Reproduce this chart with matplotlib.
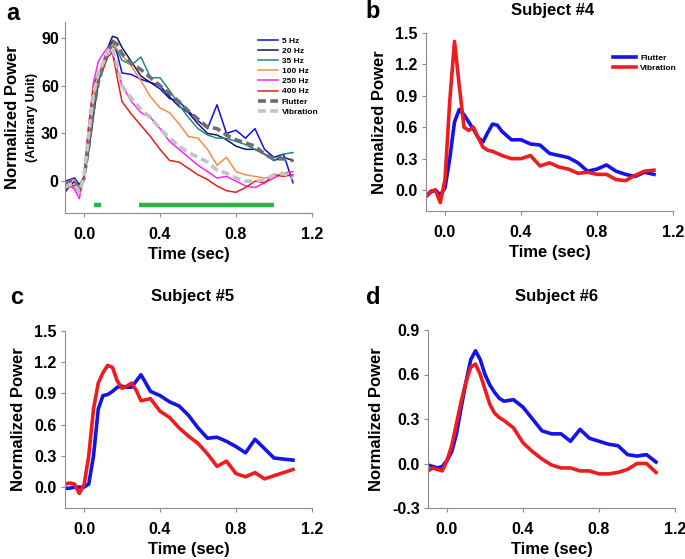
import matplotlib
matplotlib.use('Agg')
import matplotlib.pyplot as plt

plt.rcParams['font.family'] = ['Liberation Sans', 'DejaVu Sans']
plt.rcParams['font.weight'] = 'bold'

W, H = 685, 559

# ---- panel a : group average per frequency ----
time_a = [-0.1, -0.075, -0.05, -0.025, 0.0, 0.025, 0.05, 0.075, 0.1, 0.125, 0.15, 0.175, 0.2,
          0.25, 0.3, 0.35, 0.4, 0.45, 0.5, 0.55, 0.6, 0.65, 0.7, 0.75, 0.8, 0.85, 0.9, 0.95,
          1.0, 1.05, 1.1]
hz5 = [0, 1, 2, -2, 2, 20, 42, 62, 72, 82, 88, 80, 68,
       67, 64, 62, 58, 52, 50, 44, 38, 33, 48, 30, 32, 27, 33, 20, 15, 17, -1]
hz20 = [-7, -3, 0, -3, 2, 20, 42, 62, 74, 84, 91, 90, 84,
        75, 66, 62, 60, 53, 47, 43, 36, 30, 29, 26, 22, 20, 20, 17, 13, 15, 13]
hz35 = [-3, -2, -5, -7, 2, 22, 45, 63, 72, 80, 85, 82, 76,
        73, 78, 65, 65, 57, 48, 40, 33, 29, 27, 27, 25, 23, 20, 17, 13, 17, 18]
hz100 = [-2, 0, 1, -4, 2, 25, 50, 66, 75, 82, 86, 83, 79,
         72, 63, 53, 46, 43, 36, 28, 27, 20, 10, 15, 6, 4, 3, 2, 3, 5, 3]
hz250 = [-5, -3, -5, -11, 3, 35, 62, 75, 80, 84, 80, 70, 60,
         50, 43, 40, 33, 25, 20, 15, 10, 6, 2, 3, 0, -3, -4, -1, 2, 5, 6]
hz400 = [-4, -2, -3, -8, 3, 35, 60, 68, 70, 78, 81, 65, 50,
         42, 35, 28, 20, 13, 12, 8, 4, 1, -3, -6, -7, -4, 0, -1, 4, 3, 4]
flutter_a = [-2, 0, 0, -5, 2, 22, 45, 62, 72, 82, 88, 86, 80,
             74, 70, 65, 60, 55, 50, 44, 39, 34, 33, 29, 26, 24, 22, 17, 14, 14, 13]
vibration_a = [-4, -2, -2, -7, 3, 30, 55, 68, 74, 82, 84, 72, 60,
               52, 45, 40, 33, 27, 22, 18, 15, 12, 7, 5, 2, 0, 0, 1, 4, 5, 2]
sig_windows = [(0.05, 0.09), (0.29, 1.0)]
sig_level = -15

# ---- panels b-d : single subjects ----
time_s = [-0.1, -0.075, -0.05, -0.025, 0.0, 0.025, 0.05, 0.075, 0.1, 0.125, 0.15, 0.175, 0.2,
          0.225, 0.25, 0.275, 0.3, 0.35, 0.4, 0.45, 0.5, 0.55, 0.6, 0.65, 0.7, 0.75, 0.8,
          0.85, 0.9, 0.95, 1.0, 1.05, 1.1]
s4_flutter = [-0.06, -0.02, 0.0, -0.05, 0.02, 0.3, 0.65, 0.77, 0.72, 0.65, 0.58, 0.5, 0.46,
              0.55, 0.63, 0.62, 0.56, 0.48, 0.48, 0.44, 0.43, 0.35, 0.33, 0.31, 0.26, 0.18, 0.2,
              0.24, 0.18, 0.15, 0.13, 0.17, 0.15]
s4_vibration = [-0.06, -0.01, 0.0, -0.12, 0.1, 0.85, 1.42, 1.0, 0.6, 0.57, 0.6, 0.5, 0.41,
                0.38, 0.37, 0.35, 0.33, 0.3, 0.3, 0.33, 0.23, 0.26, 0.22, 0.2, 0.16, 0.17, 0.15,
                0.15, 0.1, 0.09, 0.14, 0.18, 0.19]
s5_flutter = [-0.01, -0.01, 0.0, 0.0, 0.0, 0.03, 0.3, 0.75, 0.88, 0.89, 0.92, 0.96, 0.97,
              0.96, 0.96, 1.02, 1.08, 0.92, 0.88, 0.82, 0.78, 0.69, 0.57, 0.47, 0.48, 0.44, 0.39,
              0.33, 0.46, 0.37, 0.28, 0.27, 0.26]
s5_vibration = [0.03, 0.04, 0.03, -0.06, 0.02, 0.3, 0.75, 1.0, 1.1, 1.17, 1.15, 1.02, 0.95,
                0.97, 1.0, 0.93, 0.83, 0.85, 0.73, 0.67, 0.57, 0.49, 0.42, 0.32, 0.2, 0.25, 0.13,
                0.1, 0.14, 0.08, 0.11, 0.14, 0.17]
s6_flutter = [-0.01, -0.02, -0.03, -0.02, 0.02, 0.08, 0.2, 0.38, 0.55, 0.7, 0.76, 0.7, 0.6,
              0.53, 0.48, 0.44, 0.42, 0.43, 0.38, 0.3, 0.22, 0.2, 0.2, 0.15, 0.23, 0.17, 0.15,
              0.13, 0.12, 0.06, 0.05, 0.06, 0.01]
s6_vibration = [-0.05, -0.03, -0.04, -0.05, 0.02, 0.12, 0.27, 0.42, 0.55, 0.65, 0.67, 0.6, 0.5,
                0.4, 0.34, 0.31, 0.29, 0.24, 0.14, 0.08, 0.03, -0.01, -0.03, -0.03, -0.05, -0.05,
                -0.07, -0.07, -0.06, -0.04, 0.0, 0.0, -0.06]

BLUE = '#1414e6'
RED = '#ee1c1c'
SPINE = '#8c8c8c'


def box(l, t, r, b):
    # pixel box -> figure fraction rect
    return [l / W, 1 - b / H, (r - l) / W, (b - t) / H]


def style(ax, ylim, yticks, ylabels, ypad=3):
    ax.set_xlim(-0.1, 1.2)
    ax.set_ylim(*ylim)
    ax.set_xticks([0.0, 0.4, 0.8, 1.2])
    ax.set_xticklabels(['0.0', '0.4', '0.8', '1.2'])
    ax.set_yticks(yticks)
    ax.set_yticklabels(ylabels)
    for s in ['top', 'right']:
        ax.spines[s].set_visible(False)
    for s in ['left', 'bottom']:
        ax.spines[s].set_color(SPINE)
        ax.spines[s].set_linewidth(0.8)
    ax.tick_params(length=3, width=0.8, color=SPINE, labelsize=11.5)
    ax.tick_params(axis='x', pad=7)
    ax.tick_params(axis='y', pad=ypad)
    for lab in ax.get_xticklabels() + ax.get_yticklabels():
        lab.set_fontweight('bold')
    ax.set_xlabel('Time (sec)', fontsize=12, fontweight='bold', labelpad=4)


fig = plt.figure(figsize=(W / 100, H / 100), dpi=100)

# panel a
ax = fig.add_axes(box(65, 22, 312, 213))
ax.plot(time_a, hz5, color='#1010e0', lw=1.1, label='5 Hz')
ax.plot(time_a, hz20, color='#14146e', lw=1.1, label='20 Hz')
ax.plot(time_a, hz35, color='#1e8c82', lw=1.1, label='35 Hz')
ax.plot(time_a, hz100, color='#f58c4c', lw=1.1, label='100 Hz')
ax.plot(time_a, hz250, color='#ff22ff', lw=1.1, label='250 Hz')
ax.plot(time_a, hz400, color='#e02020', lw=1.1, label='400 Hz')
ax.plot(time_a, flutter_a, color='#6e6e6e', lw=2.6, ls=(0, (2.2, 1.2)), label='Flutter')
ax.plot(time_a, vibration_a, color='#c4c4c4', lw=2.6, ls=(0, (2.2, 1.2)), label='Vibration')
for x0, x1 in sig_windows:
    ax.plot([x0, x1], [sig_level, sig_level], color='#2db34a', lw=3.2, solid_capstyle='butt')
style(ax, (-20, 100), [0, 30, 60, 90], ['0', '30', '60', '90'], ypad=1.5)
ax.legend(loc='upper right', bbox_to_anchor=(1.04, 0.94), frameon=False,
          prop={'size': 6, 'weight': 'bold'}, handlelength=2.4, handletextpad=0.5,
          labelspacing=0.28, borderaxespad=0)
fig.text(13 / W, 1 - 117 / H, 'Normalized Power', rotation=90, fontsize=12,
         fontweight='bold', ha='center', va='center')
fig.text(32 / W, 1 - 117 / H, '(Arbitrary Unit)', rotation=90, fontsize=9,
         fontweight='bold', ha='center', va='center')
fig.text(13 / W, 1 - 13 / H, 'a', fontsize=17, fontweight='bold', ha='center', va='center')

# panels b, c, d
panels = [
    ((426, 33, 673, 211), s4_flutter, s4_vibration, (-0.2, 1.5),
     [0.0, 0.3, 0.6, 0.9, 1.2, 1.5], 'Subject #4', 'b', (553, 10), (373, 12), True),
    ((65, 331, 312, 508), s5_flutter, s5_vibration, (-0.2, 1.5),
     [0.0, 0.3, 0.6, 0.9, 1.2, 1.5], 'Subject #5', 'c', (193, 296), (17, 298), False),
    ((428, 330, 675, 508), s6_flutter, s6_vibration, (-0.3, 0.9),
     [-0.3, 0.0, 0.3, 0.6, 0.9], 'Subject #6', 'd', (557, 297), (373, 297), False),
]
for pbox, fl, vb, ylim, yt, title, letter, tpos, lpos, leg in panels:
    ax = fig.add_axes(box(*pbox))
    ax.plot(time_s, fl, color=BLUE, lw=2.6, label='Flutter', solid_joinstyle='round')
    ax.plot(time_s, vb, color=RED, lw=2.6, label='Vibration', solid_joinstyle='round')
    style(ax, ylim, yt, ['%.1f' % v for v in yt])
    ax.set_ylabel('Normalized Power', fontsize=12, fontweight='bold', labelpad=6)
    if leg:
        ax.legend(loc='upper right', bbox_to_anchor=(1.03, 0.9), frameon=False,
                  prop={'size': 6, 'weight': 'bold'}, handlelength=2.8, handletextpad=0.5,
                  labelspacing=0.25, borderaxespad=0)
    fig.text(tpos[0] / W, 1 - tpos[1] / H, title, fontsize=12, fontweight='bold',
             ha='center', va='center')
    fig.text(lpos[0] / W, 1 - lpos[1] / H, letter, fontsize=17, fontweight='bold',
             ha='center', va='center')

fig.savefig('out.png', dpi=100)
